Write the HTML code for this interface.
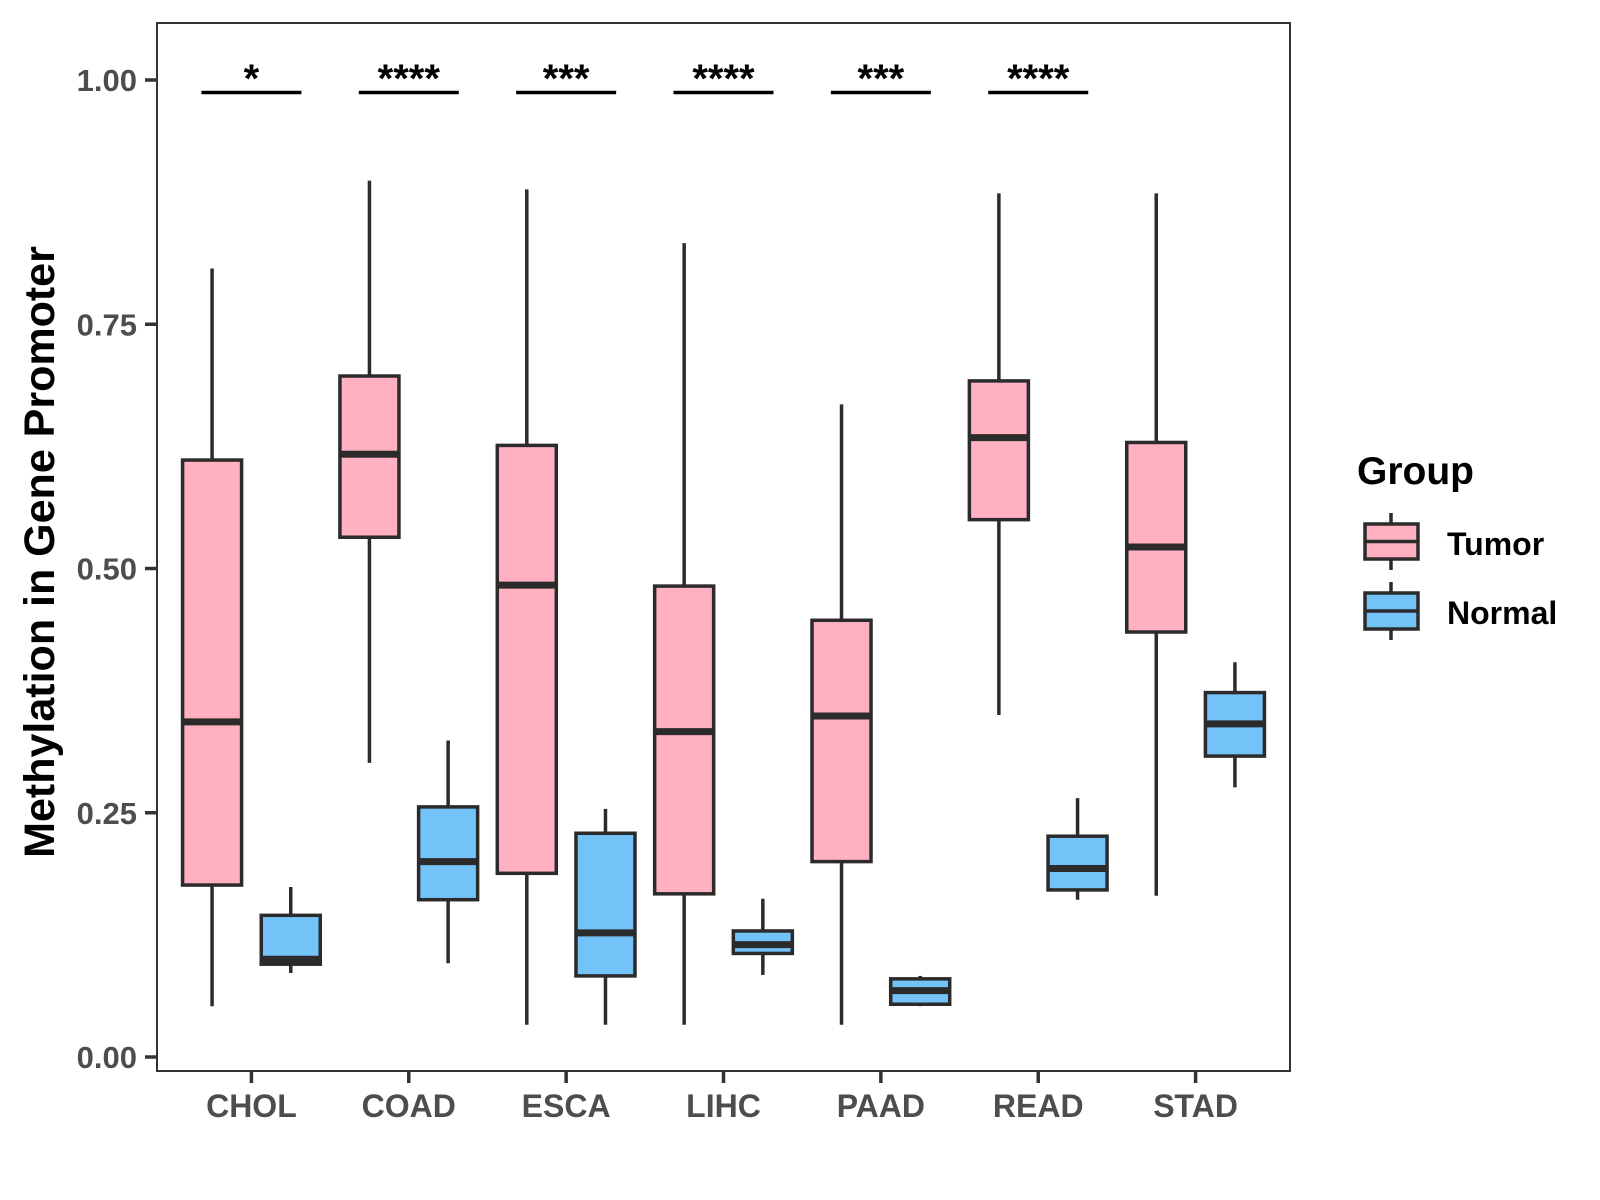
<!DOCTYPE html>
<html><head><meta charset="utf-8"><style>
html,body{margin:0;padding:0;background:#fff;}
svg{display:block;font-family:"Liberation Sans",Arial,sans-serif;}
</style></head><body>
<svg id="chart" width="1600" height="1200" viewBox="0 0 1600 1200" xmlns="http://www.w3.org/2000/svg">
<rect x="0" y="0" width="1600" height="1200" fill="#fff"/>
<g id="plot"></g>
<text transform="translate(54,552) rotate(-90)" text-anchor="middle" font-size="43" font-weight="bold" fill="#000">Methylation in Gene Promoter</text>
<g>
<text x="1357" y="484" font-size="39" font-weight="bold" fill="#000">Group</text>
<g>
<line x1="1391" y1="513" x2="1391" y2="570" stroke="#2b2b2b" stroke-width="3.5"/>
<rect x="1365" y="524" width="53" height="35" fill="#FFB0C1" stroke="#2b2b2b" stroke-width="3.5"/>
<line x1="1365" y1="541.5" x2="1418" y2="541.5" stroke="#2b2b2b" stroke-width="3.5"/>
<text x="1447" y="555" font-size="32" font-weight="bold" fill="#000">Tumor</text>
</g>
<g>
<line x1="1391" y1="582" x2="1391" y2="640" stroke="#2b2b2b" stroke-width="3.5"/>
<rect x="1365" y="593" width="53" height="36" fill="#74C3F8" stroke="#2b2b2b" stroke-width="3.5"/>
<line x1="1365" y1="611" x2="1418" y2="611" stroke="#2b2b2b" stroke-width="3.5"/>
<text x="1447" y="624" font-size="32" font-weight="bold" fill="#000">Normal</text>
</g>
</g>
</svg>
<script>
const categories = ["CHOL","COAD","ESCA","LIHC","PAAD","READ","STAD"];
// [lower whisker, Q1, median, Q3, upper whisker]
const tumorStats = [
  [0.052,0.176,0.343,0.611,0.807],
  [0.301,0.532,0.617,0.697,0.897],
  [0.033,0.188,0.483,0.626,0.888],
  [0.033,0.167,0.333,0.482,0.833],
  [0.033,0.200,0.349,0.447,0.668],
  [0.350,0.550,0.634,0.692,0.884],
  [0.165,0.435,0.522,0.629,0.884]
];
const normalStats = [
  [0.086,0.095,0.100,0.145,0.174],
  [0.096,0.161,0.200,0.256,0.324],
  [0.033,0.083,0.127,0.229,0.254],
  [0.084,0.106,0.115,0.129,0.162],
  [0.052,0.054,0.068,0.080,0.083],
  [0.161,0.171,0.193,0.226,0.265],
  [0.276,0.308,0.341,0.373,0.404]
];
const signifLabels = ["*","****","***","****","***","****",""];
const yTicks = [0,0.25,0.5,0.75,1.0];
const yTickLabels = ["0.00","0.25","0.50","0.75","1.00"];

const NS="http://www.w3.org/2000/svg";
const P={l:157,r:1290,t:23,b:1071};
const step=(P.r-P.l)/(categories.length-1+1.2);
function xScale(i){return P.l+(0.6+i)*step;}
function yScale(v){return 1057-v*977;}
const g=document.getElementById('plot');
function mk(tag,attrs,parent){const e=document.createElementNS(NS,tag);for(const k in attrs)e.setAttribute(k,attrs[k]);(parent||g).appendChild(e);return e;}

const frame=mk('rect',{x:P.l,y:P.t,width:P.r-P.l,height:P.b-P.t,fill:'none',stroke:'#333',"stroke-width":2});



yTicks.forEach((v,i)=>{
  const y=yScale(v);
  const t=mk('line',{x1:P.l-12,x2:P.l,y1:y,y2:y,stroke:'#333',"stroke-width":3.5});
  
  
  const tx=mk('text',{x:P.l-20,y:y+11,"text-anchor":"end","font-size":31,"font-weight":"bold",fill:'#4d4d4d'});
  tx.textContent=yTickLabels[i];
  
  
});

categories.forEach((c,i)=>{
  const x=xScale(i);
  const t=mk('line',{x1:x,x2:x,y1:P.b,y2:P.b+12,stroke:'#333',"stroke-width":3.5});
  
  
  const tx=mk('text',{x:x,y:P.b+46,"text-anchor":"middle","font-size":32,"font-weight":"bold",fill:'#4d4d4d'});
  tx.textContent=c;
  
  
});

const bw=0.375*step, off=0.25*step;
function drawBox(cx,s,fill,name){
  const grp=mk('g',{});
  
  
  mk('line',{x1:cx,x2:cx,y1:yScale(s[0]),y2:yScale(s[4]),stroke:'#2b2b2b',"stroke-width":3.5},grp);
  mk('rect',{x:cx-bw/2,y:yScale(s[3]),width:bw,height:yScale(s[1])-yScale(s[3]),fill:fill,stroke:'#2b2b2b',"stroke-width":3.5},grp);
  mk('line',{x1:cx-bw/2,x2:cx+bw/2,y1:yScale(s[2]),y2:yScale(s[2]),stroke:'#2b2b2b',"stroke-width":7},grp);
}
categories.forEach((c,i)=>{
  drawBox(xScale(i)-off,tumorStats[i],'#FFB0C1','box-tumor-'+c.toLowerCase());
  drawBox(xScale(i)+off,normalStats[i],'#74C3F8','box-normal-'+c.toLowerCase());
  if(signifLabels[i]){
    const x=xScale(i);
    const l=mk('line',{x1:x-50,x2:x+50,y1:92.5,y2:92.5,stroke:'#000',"stroke-width":3.5});
    
    
    const t=mk('text',{x:x,y:92,"text-anchor":"middle","font-size":40,"font-weight":"bold",fill:'#000'});
    t.textContent=signifLabels[i];
    
    
  }
});
</script>
</body></html>
